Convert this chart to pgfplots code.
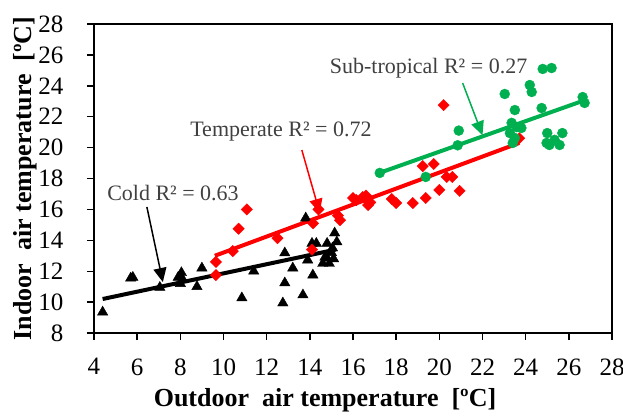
\documentclass[border=0pt]{standalone}
\usepackage{fontspec}
\setmainfont{Liberation Serif}
\usepackage{pgfplots}
\pgfplotsset{compat=1.18}
\usetikzlibrary{arrows.meta}

\definecolor{subgreen}{RGB}{0,176,80}
\definecolor{annot}{RGB}{64,64,64}

\begin{document}
\begin{tikzpicture}
\begin{axis}[
    scale only axis,
    width=518pt, height=309pt,
    xmin=4, xmax=28, ymin=8, ymax=28,
    xtick={4,6,...,28}, ytick={8,10,...,28},
    tick pos=left, tick align=outside,
    major tick length=7pt,
    every tick/.style={line width=1.4pt, black},
    axis line style={line width=1.4pt},
    /pgf/number format/assume math mode=true,
    tick label style={font=\fontsize{25}{29}\selectfont},
    xticklabel style={yshift=-15pt},
    yticklabel style={xshift=-20pt},
    xlabel={\textbf{Outdoor\ \ air temperature\ \ [ºC]}},
    ylabel={\textbf{Indoor\ \ air temperature\ \ [ºC]}},
    label style={font=\fontsize{26}{30}\selectfont},
    xlabel style={xshift=-28pt, yshift=-6pt},
    ylabel style={yshift=-5pt},
    clip=false,
]
% Cold
\addplot[only marks, mark=triangle*, mark size=6pt, black] coordinates {
(4.4,9.35) (5.7,11.55) (5.8,11.6) (7.05,10.95) (7.9,11.6) (8.0,11.2)
(8.05,11.9) (8.1,11.5) (8.77,11.0) (9.0,12.2) (10.85,10.27) (11.4,12.0)
(12.84,13.18) (12.84,11.24) (12.75,9.94) (13.21,12.2) (13.68,10.46)
(13.81,15.44) (13.9,12.72) (14.14,11.75) (14.1,13.8) (14.3,13.8)
(14.8,13.8) (14.6,12.5) (14.8,12.85) (15.15,14.47) (15.25,13.9)
(15.0,13.2) (14.9,12.5) (15.05,13.5) (14.7,12.9) (15.1,12.8)
};
\addplot[black, line width=4pt] coordinates {(4.4,10.2) (15.2,13.4)};
% Temperate
\addplot[only marks, mark=square*, mark options={rotate=45}, mark size=4pt, red] coordinates {
(9.65,12.6) (9.65,11.75) (10.43,13.3) (10.7,14.75) (11.08,16.0) (12.5,14.14)
(14.1,13.4) (14.15,15.1) (14.4,16.0) (15.4,15.3) (15.3,15.6) (16.0,16.74)
(16.15,16.6) (16.45,16.8) (16.64,16.6) (16.7,16.28) (16.6,16.9) (16.8,16.45)
(17.8,16.67) (18.0,16.41) (18.77,16.41) (19.37,16.74) (19.23,18.8)
(19.74,18.94) (20.34,18.1) (20.6,18.1) (20.0,17.26) (20.94,17.2)
(20.2,22.75) (23.7,20.6)
};
\addplot[red, line width=4pt] coordinates {(9.6,13.0) (23.7,20.3)};
% Sub-tropical
\addplot[only marks, mark=*, mark size=5pt, subgreen] coordinates {
(17.24,18.36) (19.37,18.1) (20.9,21.1) (20.85,20.15) (23.03,23.47)
(24.79,25.09) (25.2,25.15) (24.19,24.05) (24.28,23.6) (24.74,22.56)
(23.5,22.43) (23.35,21.6) (23.58,21.33) (23.8,21.27) (23.27,20.94)
(23.5,20.62) (23.4,20.3) (25.0,20.94) (25.7,20.94) (24.97,20.3)
(25.34,20.5) (25.57,20.17) (25.1,20.17) (26.64,23.27) (26.73,22.89)
};
\addplot[subgreen, line width=4pt] coordinates {(17.3,18.4) (26.6,23.0)};
% annotations
\draw[black, line width=1.5pt, -{Triangle[length=14pt,width=13pt]}] (axis cs:6.45,16.16) -- (axis cs:7.19,11.3);
\draw[red, line width=1.5pt, -{Triangle[length=14pt,width=13pt]}] (axis cs:13.63,19.84) -- (axis cs:14.46,15.77);
\draw[subgreen, line width=1.5pt, -{Triangle[length=14pt,width=13pt]}] (axis cs:21.08,24.18) -- (axis cs:22.0,20.8);
\node[text=annot, font=\fontsize{22}{25}\selectfont] at (axis cs:7.66,17.06) {Cold R² = 0.63};
\node[text=annot, font=\fontsize{22}{25}\selectfont] at (axis cs:12.66,21.07) {Temperate R² = 0.72};
\node[text=annot, font=\fontsize{22}{25}\selectfont] at (axis cs:19.5,25.15) {Sub-tropical R² = 0.27};
\end{axis}
\pgfresetboundingbox
\path[use as bounding box] (current axis.south west) ++(-94pt,-85pt) rectangle ++(623pt,418pt);
\end{tikzpicture}
\end{document}
